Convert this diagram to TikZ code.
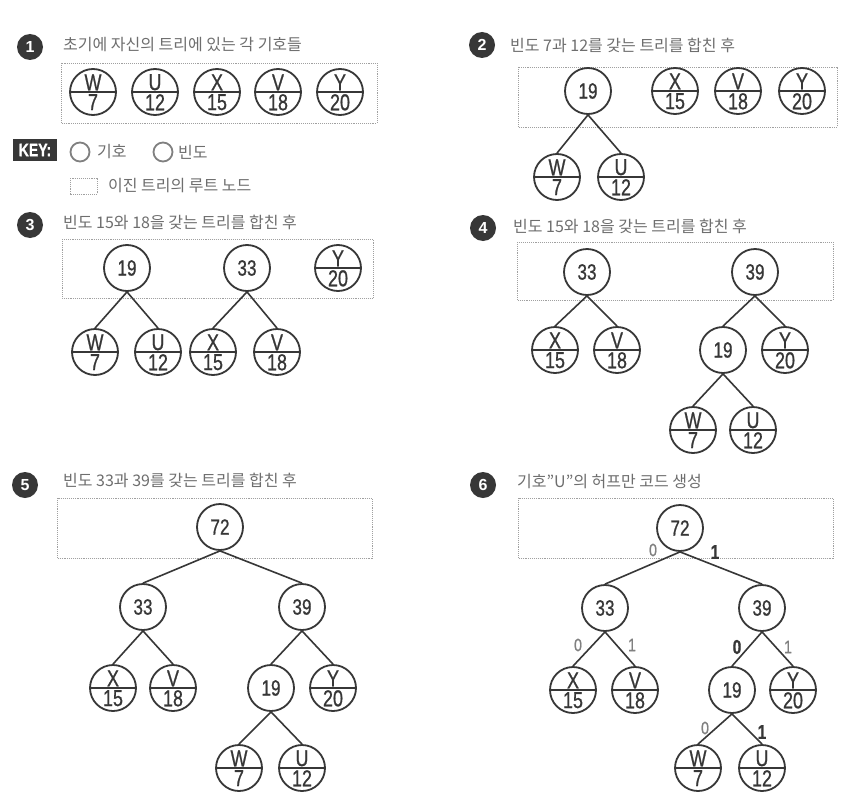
\documentclass[tikz,border=0pt]{standalone}
\usepackage{fontspec}
\setmainfont{Liberation Sans}
\newfontfamily\krfont{Noto Sans CJK KR}
\newfontfamily\numfont[FakeStretch=0.78, FakeBold=0.8]{Liberation Sans}
\usetikzlibrary{positioning}
\definecolor{InkColor}{RGB}{55,55,55}
\definecolor{TitleColor}{RGB}{110,110,110}
\definecolor{BoxColor}{RGB}{160,160,160}
\tikzset{
  leaf/.style={circle, draw=InkColor, line width=1.8pt, minimum size=46pt, inner sep=0pt,
    path picture={\draw[InkColor, line width=1.5pt] (path picture bounding box.west) -- (path picture bounding box.east);}},
  sumnode/.style={circle, draw=InkColor, line width=1.8pt, minimum size=46pt, inner sep=0pt,
    text=InkColor, font=\numfont\fontsize{22}{22}\selectfont},
  symtxt/.style={inner sep=0pt, text=InkColor, font=\numfont\fontsize{23}{23}\selectfont},
  freqtxt/.style={inner sep=0pt, text=InkColor, font=\numfont\fontsize{23}{23}\selectfont},
  link/.style={draw=InkColor, line width=1.6pt},
  rootbox/.style={draw=BoxColor, densely dotted, line width=0.9pt},
  badge/.style={circle, fill=InkColor, minimum size=26pt, inner sep=0pt, text=white,
    font=\bfseries\fontsize{16}{16}\selectfont},
  title/.style={anchor=west, inner sep=0pt, text=TitleColor, font=\krfont\fontsize{16}{16}\selectfont},
  bit/.style={inner sep=0pt, text=gray, font=\numfont\fontsize{18}{18}\selectfont},
  bitbold/.style={bit, text=InkColor, font=\numfont\bfseries\fontsize{20}{20}\selectfont},
  keycirc/.style={circle, draw=gray, line width=1.8pt, minimum size=19pt, inner sep=0pt},
}
% leaf node: name, position, symbol, frequency
\newcommand{\leafnode}[4]{%
  \node[leaf] (#1) at (#2) {};
  \node[symtxt, anchor=south] (#1s) at ([yshift=1.5pt]#1.center) {#3};
  \node[freqtxt, anchor=north] (#1f) at ([yshift=-2pt]#1.center) {#4};
}
\begin{document}
\begin{tikzpicture}[x=1pt, y=-1pt]
  \path[fill=white] (0,0) rectangle (858,797);
  \useasboundingbox (0,0) rectangle (858,797);

  % (1) initial trees
  \node[badge] (b1) at (30,47) {1};
  \node[title] (t1) at (63,45) {초기에 자신의 트리에 있는 각 기호들};
  \draw[rootbox] (61,63) rectangle (377,123);
  \leafnode{aw}{93,92}{W}{7}
  \leafnode{au}{155,92}{U}{12}
  \leafnode{ax}{217,92}{X}{15}
  \leafnode{av}{278,92}{V}{18}
  \leafnode{ay}{340,92}{Y}{20}

  % key
  \node[fill=InkColor, text=white, minimum width=44pt, minimum height=22pt, inner sep=0pt,
        font=\numfont\bfseries\fontsize{18}{18}\selectfont] (key) at (35,150) {KEY:};
  \node[keycirc] (ksym) at (80,152) {};
  \node[title] (ksymt) at (97,152) {기호};
  \node[keycirc] (kfreq) at (163,152) {};
  \node[title] (kfreqt) at (178,152) {빈도};
  \draw[rootbox] (70,178) rectangle (97,194);
  \node[title] (kbox) at (108,186) {이진 트리의 루트 노드};

  % (2) merge 7 and 12
  \node[badge] (b2) at (482,45) {2};
  \node[title] (t2) at (510,45) {빈도 7과 12를 갖는 트리를 합친 후};
  \draw[rootbox] (518,67) rectangle (837,127);
  \node[sumnode] (b19) at (588,91) {19};
  \leafnode{bx}{675,91}{X}{15}
  \leafnode{bv}{738,91}{V}{18}
  \leafnode{by}{802,91}{Y}{20}
  \leafnode{bw}{557,177}{W}{7}
  \leafnode{bu}{621,177}{U}{12}
  \draw[link] (b19.south) -- (bw.north);
  \draw[link] (b19.south) -- (bu.north);

  % (3) merge 15 and 18
  \node[badge] (b3) at (30,225) {3};
  \node[title] (t3) at (63,222) {빈도 15와 18을 갖는 트리를 합친 후};
  \draw[rootbox] (62,239) rectangle (373,298);
  \node[sumnode] (c19) at (127,268) {19};
  \node[sumnode] (c33) at (247,268) {33};
  \leafnode{cy}{338,268}{Y}{20}
  \leafnode{cw}{95,352}{W}{7}
  \leafnode{cu}{158,352}{U}{12}
  \leafnode{cx}{213,352}{X}{15}
  \leafnode{cv}{277,352}{V}{18}
  \draw[link] (c19.south) -- (cw.north);
  \draw[link] (c19.south) -- (cu.north);
  \draw[link] (c33.south) -- (cx.north);
  \draw[link] (c33.south) -- (cv.north);

  % (4) merge 19 and 20
  \node[badge] (b4) at (483,228) {4};
  \node[title] (t4) at (513,226) {빈도 15와 18을 갖는 트리를 합친 후};
  \draw[rootbox] (517,242) rectangle (833,300);
  \node[sumnode] (d33) at (587,272) {33};
  \node[sumnode] (d39) at (755,272) {39};
  \leafnode{dx}{555,350}{X}{15}
  \leafnode{dv}{617,350}{V}{18}
  \node[sumnode] (d19) at (723,350) {19};
  \leafnode{dy}{785,350}{Y}{20}
  \leafnode{dw}{693,430}{W}{7}
  \leafnode{du}{753,430}{U}{12}
  \draw[link] (d33.south) -- (dx.north);
  \draw[link] (d33.south) -- (dv.north);
  \draw[link] (d39.south) -- (d19.north);
  \draw[link] (d39.south) -- (dy.north);
  \draw[link] (d19.south) -- (dw.north);
  \draw[link] (d19.south) -- (du.north);

  % (5) merge 33 and 39
  \node[badge] (b5) at (25,485) {5};
  \node[title] (t5) at (63,480) {빈도 33과 39를 갖는 트리를 합친 후};
  \draw[rootbox] (57,498) rectangle (372,558);
  \node[sumnode] (e72) at (220,527) {72};
  \node[sumnode] (e33) at (143,607) {33};
  \node[sumnode] (e39) at (302,607) {39};
  \leafnode{ex}{113,688}{X}{15}
  \leafnode{ev}{173,688}{V}{18}
  \node[sumnode] (e19) at (271,688) {19};
  \leafnode{ey}{333,688}{Y}{20}
  \leafnode{ew}{239,768}{W}{7}
  \leafnode{eu}{302,768}{U}{12}
  \draw[link] (e72.south) -- (e33.north);
  \draw[link] (e72.south) -- (e39.north);
  \draw[link] (e33.south) -- (ex.north);
  \draw[link] (e33.south) -- (ev.north);
  \draw[link] (e39.south) -- (e19.north);
  \draw[link] (e39.south) -- (ey.north);
  \draw[link] (e19.south) -- (ew.north);
  \draw[link] (e19.south) -- (eu.north);

  % (6) Huffman code of U
  \node[badge] (b6) at (483,485) {6};
  \node[title] (t6) at (517,482) {기호”U”의 허프만 코드 생성};
  \draw[rootbox] (518,498) rectangle (833,558);
  \node[sumnode] (f72) at (680,528) {72};
  \node[sumnode] (f33) at (605,608) {33};
  \node[sumnode] (f39) at (762,608) {39};
  \leafnode{fx}{573,690}{X}{15}
  \leafnode{fv}{635,690}{V}{18}
  \node[sumnode] (f19) at (732,690) {19};
  \leafnode{fy}{793,690}{Y}{20}
  \leafnode{fw}{698,768}{W}{7}
  \leafnode{fu}{762,768}{U}{12}
  \draw[link] (f72.south) -- (f33.north);
  \draw[link] (f72.south) -- (f39.north);
  \draw[link] (f33.south) -- (fx.north);
  \draw[link] (f33.south) -- (fv.north);
  \draw[link] (f39.south) -- (f19.north);
  \draw[link] (f39.south) -- (fy.north);
  \draw[link] (f19.south) -- (fw.north);
  \draw[link] (f19.south) -- (fu.north);
  % bit labels
  \node[bit] (g1) at (653,550) {0};
  \node[bitbold] (g2) at (715,552) {1};
  \node[bit] (g3) at (578,645) {0};
  \node[bit] (g4) at (632,645) {1};
  \node[bitbold] (g5) at (737,647) {0};
  \node[bit] (g6) at (788,647) {1};
  \node[bit] (g7) at (705,728) {0};
  \node[bitbold] (g8) at (762,732) {1};
\end{tikzpicture}
\end{document}
